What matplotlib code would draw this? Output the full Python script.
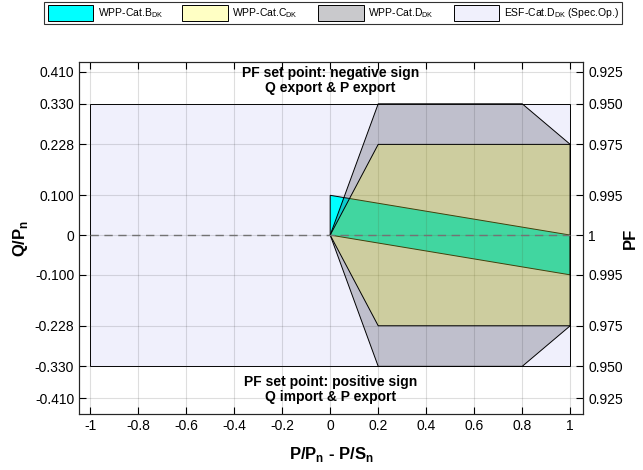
import matplotlib
matplotlib.use("Agg")
import matplotlib.pyplot as plt
from matplotlib.patches import Polygon, Patch

plt.rcParams['font.family'] = ['Liberation Sans', 'DejaVu Sans']
plt.rcParams['mathtext.fontset'] = 'custom'
plt.rcParams['mathtext.rm'] = 'Liberation Sans'
plt.rcParams['mathtext.bf'] = 'Liberation Sans:bold'

# Operating regions in the P-Q plane
esf_p = [-1, 1, 1, -1]
esf_q = [-0.33, -0.33, 0.33, 0.33]
catB_p = [0, 0, 1, 1]
catB_q = [0, 0.1, 0, -0.1]
catC_p = [0, 0.2, 1, 1, 0.2]
catC_q = [0, 0.228, 0.228, -0.228, -0.228]
catD_p = [0, 0.2, 0.8, 1, 1, 0.8, 0.2]
catD_q = [0, 0.33, 0.33, 0.228, -0.228, -0.33, -0.33]

q_ticks = [-0.41, -0.33, -0.228, -0.1, 0, 0.1, 0.228, 0.33, 0.41]
q_labels = ['-0.410', '-0.330', '-0.228', '-0.100', '0', '0.100', '0.228', '0.330', '0.410']
pf_labels = ['0.925', '0.950', '0.975', '0.995', '1', '0.995', '0.975', '0.950', '0.925']
p_ticks = [-1, -0.8, -0.6, -0.4, -0.2, 0, 0.2, 0.4, 0.6, 0.8, 1]
p_labels = ['-1', '-0.8', '-0.6', '-0.4', '-0.2', '0', '0.2', '0.4', '0.6', '0.8', '1']

names = [r'WPP-Cat.B$_\mathrm{DK}$', r'WPP-Cat.C$_\mathrm{DK}$',
         r'WPP-Cat.D$_\mathrm{DK}$', r'ESF-Cat.D$_\mathrm{DK}$ (Spec.Op.)']

c_esf = (0.94, 0.94, 0.99)
c_B = (0.0, 1.0, 1.0)
c_C = (1.0, 1.0, 0.0)
c_D = (0.19, 0.19, 0.24)
a_C = 0.22
a_D = 0.25

fig = plt.figure(figsize=(6.43, 4.70), dpi=100)
ax = fig.add_axes([0.123, 0.119, 0.784, 0.749])

ax.add_patch(Polygon(list(zip(esf_p, esf_q)), closed=True, facecolor=c_esf,
                     edgecolor='black', linewidth=0.7, zorder=1))
ax.add_patch(Polygon(list(zip(catB_p, catB_q)), closed=True, facecolor=c_B,
                     edgecolor='black', linewidth=0.7, zorder=2))
ax.add_patch(Polygon(list(zip(catD_p, catD_q)), closed=True, facecolor=c_D, alpha=a_D,
                     edgecolor='none', zorder=3))
ax.add_patch(Polygon(list(zip(catD_p, catD_q)), closed=True, facecolor='none',
                     edgecolor='black', linewidth=0.7, zorder=5))
ax.add_patch(Polygon(list(zip(catC_p, catC_q)), closed=True, facecolor=c_C, alpha=a_C,
                     edgecolor='none', zorder=4))
ax.add_patch(Polygon(list(zip(catC_p, catC_q)), closed=True, facecolor='none',
                     edgecolor='black', linewidth=0.7, zorder=5))
ax.plot([-1, 1], [0, 0], color=(0.45, 0.45, 0.45), linestyle=(0, (6, 4)),
        linewidth=1.0, zorder=6)

ax.text(0, 0.389, 'PF set point: negative sign\nQ export & P export', ha='center',
        va='center', fontsize=10, fontweight='bold', linespacing=1.15, zorder=7)
ax.text(0, -0.388, 'PF set point: positive sign\nQ import & P export', ha='center',
        va='center', fontsize=10, fontweight='bold', linespacing=1.15, zorder=7)

ax.set_xlim(-1.046, 1.054)
ax.set_ylim(-0.45, 0.435)
ax.set_xticks(p_ticks)
ax.set_xticklabels(p_labels)
ax.set_yticks(q_ticks)
ax.set_yticklabels(q_labels)
ax.grid(True, color=(0.15, 0.15, 0.15), alpha=0.15, linewidth=0.8, zorder=6)
ax.set_axisbelow(False)
ax.tick_params(direction='in', length=5, width=0.8, labelsize=10, colors='black',
               top=True, labelcolor='black')
ax.tick_params(axis='y', which='both', right=False)
ax.set_xlabel(r'P/P$_\mathbf{n}$ - P/S$_\mathbf{n}$', fontsize=12, fontweight='bold',
              labelpad=9)
ax.set_ylabel(r'Q/P$_\mathbf{n}$', fontsize=12, fontweight='bold', labelpad=3)

ax2 = ax.twinx()
ax2.set_ylim(ax.get_ylim())
ax2.set_yticks(q_ticks)
ax2.set_yticklabels(pf_labels)
ax2.tick_params(direction='in', length=5, width=0.8, labelsize=10)
ax2.set_ylabel('PF', fontsize=12, fontweight='bold', rotation=90)
ax2.yaxis.set_label_coords(1.078, 0.5)

for a in (ax, ax2):
    for s in a.spines.values():
        s.set_color((0.15, 0.15, 0.15))
        s.set_linewidth(0.8)

handles = [Patch(facecolor=c_B, edgecolor='black', linewidth=0.7),
           Patch(facecolor=(1.0, 1.0, 0.77), edgecolor='black', linewidth=0.7),
           Patch(facecolor=(0.79, 0.79, 0.8), edgecolor='black', linewidth=0.7),
           Patch(facecolor=c_esf, edgecolor='black', linewidth=0.7)]
leg = fig.legend(handles, names, loc='upper center', bbox_to_anchor=(0.518, 0.999),
                 ncol=4, fontsize=7.5, frameon=True, fancybox=False, handlelength=4.4,
                 handleheight=1.9, columnspacing=1.9, handletextpad=0.4,
                 borderpad=0.3, borderaxespad=0.15)
leg.get_frame().set_edgecolor('black')
leg.get_frame().set_linewidth(0.8)

fig.savefig('out.png', dpi=100)
